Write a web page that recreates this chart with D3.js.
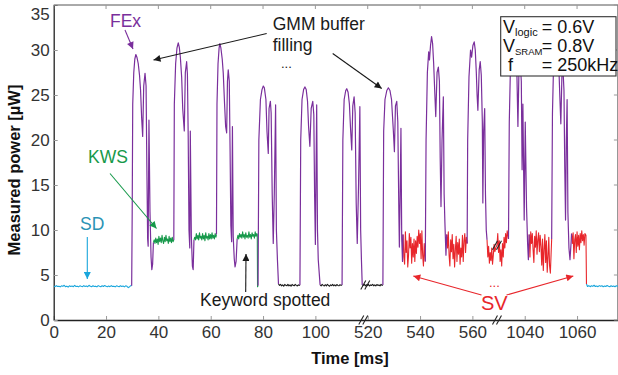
<!DOCTYPE html>
<html><head><meta charset="utf-8">
<script src="https://cdn.jsdelivr.net/npm/d3@7"></script>
<style>
body{margin:0;background:#fff}
svg{display:block}
text{font-family:"Liberation Sans",Arial,Helvetica,sans-serif}
</style>
</head><body>
<svg id="c" width="618" height="375"></svg>
<script>
// ---------------- DATA ----------------
const xTickValues = [0,20,40,60,80,100,520,540,560,1040,1060];
const yTickValues = [0,5,10,15,20,25,30,35];
const axisSegments = [[0,118.3],[518.3,569.4],[1029.4,1075.8]]; // shown time windows [ms]

// SD: sleep/detect (cyan)
const sdTrace = [[0,3.78],[0.5,3.7],[1,3.82],[1.5,3.72],[2,3.76],[2.5,3.68],[3,3.8],[3.5,3.74],[4,3.86],[4.5,3.7],[5,3.76],[5.5,3.66],[6,3.8],[6.5,3.72],[7,3.78],[7.5,3.7],[8,3.84],[8.5,3.72],[9,3.76],[9.5,3.68],[10,3.8],[10.5,3.74],[11,3.7],[11.5,3.82],[12,3.72],[12.5,3.78],[13,3.7],[13.5,3.86],[14,3.74],[14.5,3.7],[15,3.8],[15.5,3.72],[16,3.76],[16.5,3.68],[17,3.82],[17.5,3.74],[18,3.7],[18.5,3.8],[19,3.72],[19.5,3.84],[20,3.74],[20.5,3.7],[21,3.78],[21.5,3.7],[22,3.82],[22.5,3.72],[23,3.76],[23.5,3.68],[24,3.8],[24.5,3.74],[25,3.7],[25.5,3.8],[26,3.72],[26.5,3.78],[27,3.68],[27.5,3.8],[28,3.74],[28.5,3.6],[29,3.7],[29.5,3.82],[29.8,3.8]];
const sdTail = [[1063.6,4.0],[1064.0,3.72],[1064.5,3.82],[1065.0,3.7],[1065.5,3.8],[1066.0,3.74],[1066.5,3.86],[1067.0,3.72],[1067.5,3.78],[1068.0,3.7],[1068.5,3.82],[1069.0,3.74],[1069.5,3.8],[1070.0,3.7],[1070.5,3.78],[1071.0,3.72],[1071.5,3.84],[1072.0,3.74],[1072.5,3.7],[1073.0,3.8],[1073.5,3.72],[1074.0,3.78],[1074.5,3.7],[1075.0,3.8],[1075.8,3.74]];

// FEx bursts (purple)
const fexB1 = [[29.8,3.8],[30.0,12],[30.2,24],[30.6,27.5],[31.0,29.0],[31.4,29.5],[31.8,29.2],[32.3,28.5],[32.8,27.2],[33.2,25.5],[33.6,22.5],[34.0,20.4],[34.4,26.0],[34.9,27.4],[35.3,26.0],[35.6,17],[35.9,9.0],[36.1,8.2],[36.4,22.2],[36.8,12],[37.2,7.0],[37.5,5.6],[37.8,6.2],[38.1,8.6]];
const fexB2 = [[45.9,8.9],[46.1,24],[46.6,28.5],[47.1,30.2],[47.6,30.8],[48.0,30.3],[48.4,29.2],[48.9,27],[49.3,23.5],[49.9,21.0],[50.3,27.5],[50.8,28.7],[51.1,27.3],[51.4,20.4],[51.7,10],[52.0,8.0],[52.2,21.0],[52.6,9.3],[53.0,6.0],[53.3,5.6],[53.6,8.9]];
const fexB3 = [[62.2,9.5],[62.4,24],[62.8,28.5],[63.2,30.2],[63.5,30.7],[63.9,30.2],[64.4,29],[64.8,27.4],[65.3,24],[65.7,21.5],[66.1,20.8],[66.4,26.5],[66.7,27.8],[67.1,26.5],[67.4,19],[67.7,10.5],[68.0,8.7],[68.3,21.5],[68.6,9.3],[69.0,6.8],[69.3,5.9],[69.7,6.5],[70.1,9.0]];
const fexB4 = [[78.1,3.8],[78.4,20],[79.0,24.5],[79.6,25.6],[80.1,26.0],[80.5,25.8],[81.1,24.5],[81.5,21],[82.0,18.5],[82.3,23.5],[82.8,24.3],[83.1,23],[83.5,14],[83.9,8.5],[84.3,14],[84.8,23.9],[85.1,10],[85.5,6.7],[85.9,4.0]];
const fexB5 = [[94.1,3.9],[94.4,20],[94.9,24.5],[95.5,25.6],[96.0,25.9],[96.5,25.6],[97.0,24.3],[97.4,21.5],[97.9,19.3],[98.4,23.5],[99.0,24.3],[99.4,22.8],[99.7,14],[100.0,8.4],[100.2,15],[100.5,23.9],[100.8,10],[101.1,6.7],[101.8,3.9]];
const fexB6 = [[110.2,3.9],[110.5,20],[111.0,24.5],[111.6,25.5],[112.0,25.7],[112.5,25.3],[113.0,24],[113.4,21.5],[113.9,18.9],[114.3,23.8],[114.8,24.8],[115.2,23],[115.6,13],[116.0,8.5],[116.5,15],[117.0,23.7],[117.3,10],[117.6,6.7],[117.9,3.9]];
const fexB7 = [[525.8,3.9],[526.1,21],[526.6,24.5],[527.3,25.5],[527.9,25.8],[528.5,25.5],[529.1,24.5],[529.5,22.5],[529.8,21],[530.2,18.7],[530.6,23.8],[531.1,24.3],[531.5,22],[531.9,12],[532.1,8.1],[532.4,14],[532.7,21.3],[533.0,9],[533.3,6.5],[533.5,9.5]];
const fexB8 = [[542.0,6.5],[542.3,20],[542.8,27.5],[543.3,29.8],[543.6,28.9],[544.0,30.5],[544.4,31.5],[544.8,30.7],[545.2,28.5],[545.6,25.5],[546.0,22.6],[546.5,27.5],[547.0,28.1],[547.4,26.5],[547.7,18],[548.0,12.6],[548.4,20],[548.9,24.8],[549.2,14],[549.5,10.8],[549.9,7.2],[550.2,9.5]];
const fexB9 = [[558.0,8.5],[558.2,20],[558.7,27],[559.3,30.0],[559.7,29.2],[560.2,30.5],[560.7,30.9],[561.1,30.0],[561.5,27.5],[561.8,25],[562.1,23.3],[562.6,27.8],[563.0,28.7],[563.4,27.2],[563.8,22],[564.0,13],[564.3,21],[564.7,23.5],[565.0,14],[565.3,10],[565.6,8.9]];
const fexB10 = [[1033.8,9.0],[1034.1,22],[1034.5,27.5],[1035.0,29.5],[1035.5,30.5],[1036.0,30.8],[1036.5,29.8],[1037.0,27.5],[1037.4,21.5],[1037.8,27.8],[1038.3,28.5],[1038.7,26.5],[1039.0,16.7],[1039.3,24],[1039.8,11.1],[1040.2,22],[1040.7,12.5],[1041.1,8.5],[1041.4,6.7],[1041.7,9.5]];
const fexB11 = [[1050.3,9.0],[1050.6,23],[1051.0,28],[1051.5,30.2],[1052.0,31.0],[1052.5,30.3],[1053.0,28.5],[1053.4,25],[1053.8,21.8],[1054.2,27],[1054.6,28],[1055.0,25.5],[1055.3,17],[1055.6,11.1],[1055.9,20],[1056.2,24.5],[1056.5,12],[1056.9,8.0],[1057.3,6.7],[1057.7,8.5],[1057.9,9.6]];

// KWS (green)
const kwsG1 = [[38.1,8.6],[38.4,8.9],[38.7,8.5],[39.0,9.1],[39.3,8.6],[39.6,9.0],[39.9,8.4],[40.2,9.3],[40.5,8.7],[40.8,9.1],[41.1,8.6],[41.4,9.4],[41.7,8.8],[42.0,8.5],[42.3,9.2],[42.6,8.7],[42.9,9.4],[43.2,8.8],[43.5,9.0],[43.8,8.5],[44.1,9.3],[44.4,8.7],[44.7,9.1],[45.0,8.6],[45.3,9.2],[45.6,8.7],[45.9,8.9]];
const kwsG2 = [[53.6,8.9],[53.9,9.2],[54.2,8.9],[54.5,9.6],[54.8,9.0],[55.1,9.4],[55.4,8.9],[55.7,9.7],[56.0,9.1],[56.3,9.3],[56.6,8.9],[56.9,9.6],[57.2,9.0],[57.5,9.4],[57.8,8.8],[58.1,9.7],[58.4,9.1],[58.7,9.3],[59.0,8.9],[59.3,9.6],[59.6,9.0],[59.9,9.5],[60.2,9.0],[60.5,9.7],[60.8,9.1],[61.1,9.4],[61.4,9.0],[61.7,9.6],[62.0,9.2],[62.2,9.5]];
const kwsG3 = [[70.1,9.0],[70.4,9.4],[70.7,9.0],[71.0,9.6],[71.3,9.2],[71.6,9.5],[71.9,9.1],[72.2,9.8],[72.5,9.2],[72.8,9.5],[73.1,9.0],[73.4,9.7],[73.7,9.2],[74.0,9.4],[74.3,9.1],[74.6,9.8],[74.9,9.2],[75.2,9.5],[75.5,9.0],[75.8,9.7],[76.1,9.3],[76.4,9.5],[76.7,9.1],[77.0,9.8],[77.3,9.3],[77.6,9.6],[77.8,9.5],[77.9,3.7],[78.1,3.8]];

// Idle after keyword spotted (black)
const idleK1 = [[85.9,4.0],[86.3,3.85],[86.7,3.95],[87.1,3.8],[87.5,3.9],[87.9,3.75],[88.3,3.95],[88.7,3.85],[89.1,3.8],[89.5,3.95],[89.9,3.8],[90.3,3.9],[90.7,3.75],[91.1,3.95],[91.5,3.85],[91.9,3.8],[92.3,3.95],[92.7,3.85],[93.1,3.78],[93.5,3.9],[93.9,3.85],[94.1,3.9]];
const idleK2 = [[101.8,3.9],[102.2,3.8],[102.6,3.95],[103.0,3.85],[103.4,3.78],[103.8,3.92],[104.2,3.8],[104.6,3.95],[105.0,3.85],[105.4,3.75],[105.8,3.9],[106.2,3.82],[106.6,3.96],[107.0,3.8],[107.4,3.9],[107.8,3.78],[108.2,3.94],[108.6,3.84],[109.0,3.8],[109.4,3.92],[109.8,3.85],[110.2,3.9]];
const idleK3 = [[117.9,3.9],[118.3,3.85],[518.3,3.85],[518.7,3.95],[519.1,3.8],[519.5,3.92],[519.9,3.82],[520.3,3.95],[520.7,3.78],[521.1,3.9],[521.5,3.84],[521.9,3.96],[522.3,3.8],[522.7,3.9],[523.1,3.78],[523.5,3.94],[523.9,3.84],[524.3,3.9],[524.7,3.8],[525.1,3.95],[525.5,3.85],[525.8,3.9]];

// SV (red)
const svR1 = [[533.5,9.5],[533.8,7.0],[534.1,6.2],[534.4,9.8],[534.7,7.5],[535.0,8.8],[535.3,5.9],[535.6,7.2],[535.9,9.6],[536.2,8.0],[536.5,9.2],[536.8,6.3],[537.1,8.5],[537.4,7.0],[537.7,9.0],[538.0,6.5],[538.3,8.8],[538.6,7.4],[538.9,9.3],[539.2,8.1],[539.5,10.0],[539.8,8.5],[540.1,9.6],[540.4,6.8],[540.7,9.9],[541.0,7.2],[541.3,6.0],[541.6,8.5],[542.0,6.5]];
const svR2 = [[550.2,9.5],[550.5,8.0],[550.8,9.8],[551.1,7.2],[551.4,6.0],[551.7,8.9],[552.0,7.6],[552.3,9.5],[552.6,6.8],[552.9,8.4],[553.2,5.9],[553.5,7.8],[553.8,9.3],[554.1,6.5],[554.4,8.6],[554.7,7.3],[555.0,9.0],[555.3,6.2],[555.6,8.0],[555.9,7.0],[556.2,9.4],[556.5,6.5],[556.8,8.8],[557.1,9.6],[557.4,7.5],[557.7,9.2],[558.0,8.5]];
const svR3 = [[565.6,8.9],[565.9,7.0],[566.2,8.2],[566.5,6.3],[566.8,7.5],[567.1,6.6],[567.4,8.0],[567.7,6.2],[568.0,7.2],[568.3,8.4],[568.6,7.6],[569.0,8.1],[569.4,8.3],[1029.4,8.3],[1029.7,9.6],[1030.0,7.5],[1030.3,8.8],[1030.6,6.5],[1030.9,7.8],[1031.2,6.0],[1031.5,8.5],[1031.8,7.0],[1032.1,9.2],[1032.4,8.0],[1032.7,9.6],[1033.0,8.6],[1033.3,9.9],[1033.8,9.0]];
const svR4 = [[1041.7,9.5],[1042.0,7.0],[1042.3,9.8],[1042.6,8.5],[1042.9,9.6],[1043.2,7.8],[1043.5,6.4],[1043.8,9.3],[1044.1,8.1],[1044.4,9.9],[1044.7,7.3],[1045.0,8.9],[1045.3,9.7],[1045.6,7.6],[1045.9,9.4],[1046.2,8.2],[1046.5,6.1],[1046.8,9.0],[1047.1,5.5],[1047.4,7.8],[1047.7,9.5],[1048.0,6.4],[1048.3,8.8],[1048.6,5.3],[1048.9,7.0],[1049.2,9.2],[1049.5,6.0],[1049.8,5.2],[1050.1,7.5],[1050.3,9.0]];
const svR5 = [[1057.9,9.6],[1058.2,8.5],[1058.5,9.7],[1058.8,6.8],[1059.1,8.9],[1059.4,9.5],[1059.7,7.5],[1060.0,9.8],[1060.3,8.2],[1060.6,9.4],[1060.9,7.8],[1061.2,9.6],[1061.5,8.6],[1061.8,9.9],[1062.1,8.8],[1062.4,9.5],[1062.7,8.3],[1063.0,9.6],[1063.4,9.4],[1063.6,4.0]];

// ---------------- CHART ----------------
const L = 53.7, R = 618.4, T = 5, B = 320;
const svg = d3.select('#c');

// broken time axis: each shown window is placed next to the previous one
const spanTotal = d3.sum(axisSegments, s => s[1]-s[0]);
const disp = d3.scaleLinear().domain([0, spanTotal]).range([L, R]);
const xDom = [], xRng = [];
let acc = 0;
axisSegments.forEach(s => {
  xDom.push(s[0], s[1]);
  xRng.push(disp(acc), disp(acc + s[1]-s[0]));
  acc += s[1]-s[0];
});
const x = d3.scaleLinear().domain(xDom).range(xRng);
const y = d3.scaleLinear().domain([0,35]).range([B, T]);

const C = {sd:'#1aa6dc', sdText:'#2a93b5', fex:'#7a2f9c', kws:'#17994b', idle:'#1a1a1a', sv:'#e8262b'};

const defs = svg.append('defs');
defs.append('clipPath').attr('id','plot').append('rect')
  .attr('x',L).attr('y',T).attr('width',R-L).attr('height',B-T);
function marker(id,color){
  defs.append('marker').attr('id',id).attr('viewBox','0 0 10 10')
    .attr('refX',10).attr('refY',5).attr('markerWidth',10).attr('markerHeight',7)
    .attr('markerUnits','userSpaceOnUse').attr('orient','auto')
    .append('path').attr('d','M0,0 L10,5 L0,10 z').attr('fill',color);
}
marker('mk', '#1a1a1a'); marker('mp', C.fex); marker('mg', C.kws);
marker('mc', C.sd); marker('mr', C.sv);

// axes
const gx = svg.append('g').attr('transform',`translate(0,${B})`)
  .call(d3.axisBottom(x).tickValues(xTickValues).tickFormat(d3.format('d')).tickSize(-4).tickSizeOuter(0).tickPadding(5));
const gy = svg.append('g').attr('transform',`translate(${L},0)`)
  .call(d3.axisLeft(y).tickValues(yTickValues).tickFormat(d3.format('d')).tickSize(-4).tickSizeOuter(0).tickPadding(4));
[gx,gy].forEach(g=>{
  g.attr('font-family',null).attr('font-size',null);
  g.selectAll('text').attr('font-size',17).attr('fill','#333');
  g.selectAll('.tick line').attr('stroke','#999');
  g.select('.domain').attr('stroke','#222').attr('stroke-width',1.3);
});
gx.selectAll('text').attr('dy','0.75em');
// top label sits just below the frame, as in the original
gy.selectAll('.tick text').filter(d => d === 35).attr('dy','0.85em');

// top & right frame
svg.append('line').attr('x1',L).attr('x2',R).attr('y1',T).attr('y2',T).attr('stroke','#555').attr('stroke-width',1);
svg.append('line').attr('x1',R-0.5).attr('x2',R-0.5).attr('y1',T).attr('y2',B).attr('stroke','#555');
svg.append('g').selectAll('line').data(xTickValues).join('line')
  .attr('x1',d=>x(d)).attr('x2',d=>x(d)).attr('y1',T).attr('y2',T+4).attr('stroke','#999');
svg.append('g').selectAll('line').data(yTickValues).join('line')
  .attr('x1',R-0.5).attr('x2',R-4.5).attr('y1',d=>y(d)).attr('y2',d=>y(d)).attr('stroke','#999');

// axis break marks
function breakMark(cx, cy, color){
  const g = svg.append('g');
  [-2,2].forEach(o=>{
    g.append('line').attr('x1',cx+o-2.5).attr('y1',cy+4.5).attr('x2',cx+o+2.5).attr('y2',cy-4.5)
      .attr('stroke',color).attr('stroke-width',1.1);
  });
}
breakMark(x(axisSegments[0][1]), B, '#222');
breakMark(x(axisSegments[1][1]), B, '#222');

// traces
const line = d3.line().x(d=>x(d[0])).y(d=>y(d[1]));
const plot = svg.append('g').attr('clip-path','url(#plot)');
function draw(arrs, color, w){
  plot.append('g').selectAll('path').data(arrs).join('path')
    .attr('d',line).attr('fill','none').attr('stroke',color)
    .attr('stroke-width',w).attr('stroke-linejoin','round');
}
draw([sdTrace, sdTail], C.sd, 1.1);
draw([kwsG1, kwsG2, kwsG3], C.kws, 1.1);
draw([idleK1, idleK2, idleK3], C.idle, 1.1);
draw([svR1, svR2, svR3, svR4, svR5], C.sv, 1.1);
draw([fexB1,fexB2,fexB3,fexB4,fexB5,fexB6,fexB7,fexB8,fexB9,fexB10,fexB11], C.fex, 1.2);

// break marks on the traces
breakMark(x(axisSegments[0][1])+2, y(3.9), '#222');
breakMark(x(axisSegments[1][1]), y(8.3), '#222');

// annotations
function txt(s, px, py, color, size, weight){
  return svg.append('text').attr('x',px).attr('y',py).attr('fill',color)
    .attr('font-size',size).attr('font-weight',weight||null).text(s);
}
function arrow(x1,y1,x2,y2,color,mk){
  svg.append('line').attr('x1',x1).attr('y1',y1).attr('x2',x2).attr('y2',y2)
    .attr('stroke',color).attr('stroke-width',1.1).attr('marker-end',`url(#${mk})`);
}
txt('FEx',110,27,C.fex,17.5);
arrow(125,30,133,49,C.fex,'mp');
txt('GMM buffer',272.7,30,'#1a1a1a',17.5);
txt('filling',272.7,50.5,'#1a1a1a',17.5);
txt('...',281,68,'#1a1a1a',13);
arrow(266.7,33.5,153.5,60,'#1a1a1a','mk');
arrow(332.7,53.5,381.7,88.5,'#1a1a1a','mk');
txt('KWS',88,163,C.kws,17.5);
arrow(110,173.5,156.5,228.5,C.kws,'mg');
txt('SD',80,230,C.sdText,17.5);
arrow(87.3,237,87.3,279,C.sd,'mc');
txt('Keyword spotted',200,306,'#1a1a1a',17.5);
arrow(245.7,292,246,254,'#1a1a1a','mk');
txt('SV',481,310,C.sv,20);
txt('...',489,287,C.sv,13);
arrow(481.5,295,413.3,276,C.sv,'mr');
arrow(506.5,295,573.3,276,C.sv,'mr');

// axis titles
svg.append('text').attr('x',350).attr('y',364).attr('text-anchor','middle')
  .attr('font-size',16.5).attr('font-weight','bold').attr('fill','#111').text('Time [ms]');
svg.append('text').attr('transform','translate(20,170) rotate(-90)').attr('text-anchor','middle')
  .attr('font-size',16.5).attr('font-weight','bold').attr('fill','#111').text('Measured power [µW]');

// operating point box
svg.append('rect').attr('x',500.7).attr('y',16.7).attr('width',115.3).attr('height',59.3)
  .attr('fill','#fff').attr('stroke','#333').attr('stroke-width',1.1);
const box = [
  {main:'V', sub:'logic', subSize:11, val:'= 0.6V'},
  {main:'V', sub:'SRAM', subSize:9.5, val:'= 0.8V'},
  {main:' f', sub:'', subSize:10, val:'= 250kHz'}
];
box.forEach((r,i)=>{
  const by = 33 + i*18.8;
  const t = svg.append('text').attr('x',503).attr('y',by).attr('font-size',18).attr('fill','#111').attr('xml:space','preserve');
  t.append('tspan').text(r.main);
  if (r.sub) t.append('tspan').attr('font-size',r.subSize).attr('dy',3).text(r.sub);
  svg.append('text').attr('x',541.7).attr('y',by).attr('font-size',18).attr('fill','#111').text(r.val);
});
</script>
</body></html>
